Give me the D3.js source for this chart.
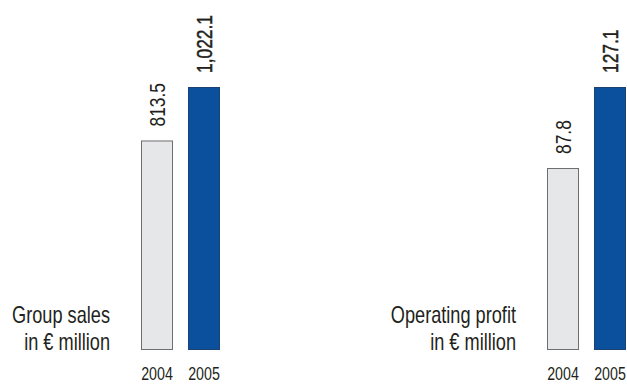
<!DOCTYPE html>
<html lang="en">
    <head>
        <meta charset="UTF-8">
        <title>Group sales and operating profit</title>
        <script src="https://d3js.org/d3.v7.min.js"></script>
        <style>
            body {
                margin: 0;
                background: white;
            }
            text {
                font-family: "Liberation Sans Narrow", "Liberation Sans", sans-serif;
                fill: #231f20;
            }
            .bar2004 {
                fill: #e6e7e8;
                stroke: #6d6e70;
                stroke-width: 1px;
            }
            .bar2005 {
                fill: #0a509c;
                stroke: #1d4272;
                stroke-width: 1px;
            }
        </style>
    </head>
    <body>
        <div id="container"></div>
        <script>
            const years = ["2004", "2005"];
            const salesValues = [813.5, 1022.1];
            const salesLabels = ["813.5", "1,022.1"];
            const profitValues = [87.8, 127.1];
            const profitLabels = ["87.8", "127.1"];

            const width = 627;
            const height = 388;
            const baseline = 349;
            const barTop = 87;
            const squeeze = 0.79; // no narrow font installed, so squeeze glyphs

            const svg = d3.select("#container").append("svg")
                .attr("width", width)
                .attr("height", height)
                .attr("viewBox", `0 0 ${width} ${height}`);

            const panels = [
                {values: salesValues, labels: salesLabels, title: ["Group sales", "in \u20ac million"], left: 141, titleX: 110},
                {values: profitValues, labels: profitLabels, title: ["Operating profit", "in \u20ac million"], left: 547, titleX: 516}
            ];

            panels.forEach(p => {
                const g = svg.append("g");

                //one x band per year, own y scale per panel
                const x = d3.scaleBand()
                    .domain(years)
                    .range([p.left, p.left + 78])
                    .paddingInner(0.34)
                    .paddingOuter(0);

                const y = d3.scaleLinear()
                    .domain([0, d3.max(p.values)])
                    .range([baseline, barTop]);

                const rows = years.map((yr, i) => ({year: yr, value: p.values[i], label: p.labels[i]}));

                g.selectAll("rect")
                    .data(rows)
                    .enter()
                    .append("rect")
                    .attr("class", d => "bar" + d.year)
                    .attr("x", d => x(d.year) + 0.5)
                    .attr("y", d => y(d.value) + 0.5)
                    .attr("width", x.bandwidth())
                    .attr("height", d => baseline - y(d.value));

                //value labels, rotated
                g.selectAll(".value")
                    .data(rows)
                    .enter()
                    .append("text")
                    .attr("class", "value")
                    .attr("transform", d => `translate(${x(d.year) + x.bandwidth() / 2 + 0.5}, ${y(d.value) - 14}) rotate(-90) scale(${squeeze},1)`)
                    .attr("dy", "0.36em")
                    .style("font-size", "22px")
                    .style("stroke", d => d.year === "2005" ? "#231f20" : "none")
                    .style("stroke-width", "0.5px")
                    .text(d => d.label);

                //year axis
                const axis = d3.axisBottom(x).tickSize(0).tickPadding(0);
                const ag = g.append("g")
                    .attr("transform", `translate(0.5, 367)`)
                    .call(axis);
                ag.select(".domain").remove();
                ag.selectAll("text")
                    .attr("dy", "0.72em")
                    .attr("transform", `scale(${squeeze},1)`)
                    .style("font-size", "18px")
                    .style("font-family", null)
                    .attr("fill", "#231f20");

                //title
                g.append("g")
                    .attr("transform", `translate(${p.titleX},0) scale(${squeeze},1)`)
                    .selectAll(".title")
                    .data(p.title)
                    .enter()
                    .append("text")
                    .attr("class", "title")
                    .attr("x", 0)
                    .attr("y", (d, i) => 323 + i * 27)
                    .attr("text-anchor", "end")
                    .style("font-size", "23px")
                    .text(d => d);
            });
        </script>
    </body>
</html>
